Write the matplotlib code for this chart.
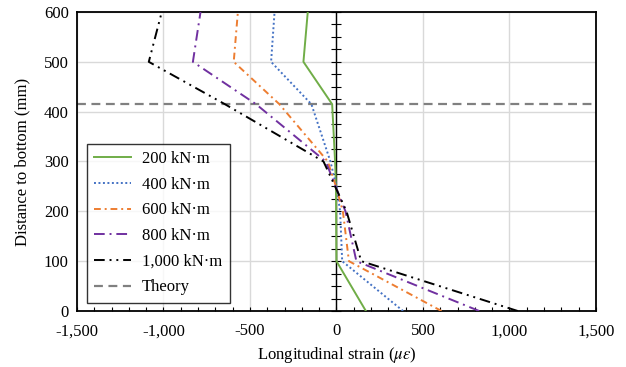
import numpy as np
import matplotlib
matplotlib.use("Agg")
import matplotlib.pyplot as plt
from matplotlib.ticker import MultipleLocator, FuncFormatter

plt.rcParams['font.family'] = ['Liberation Serif', 'DejaVu Serif']
plt.rcParams['mathtext.fontset'] = 'stix'

# gauge heights (mm) and strains (micro-strain) per moment level
height = [0, 100, 200, 250, 300, 415, 500, 600]
strain_200 = [170, 0, -2, -3, -8, -25, -191, -166]
strain_400 = [385, 33, 21, 0, -35, -145, -378, -358]
strain_600 = [607, 72, 37, -3, -50, -330, -594, -570]
strain_800 = [825, 115, 52, -5, -62, -465, -830, -786]
strain_1000 = [1048, 143, 58, -8, -75, -645, -1085, -1010]
theory_height = 415

labels = ['200 kN·m', '400 kN·m', '600 kN·m', '800 kN·m', '1,000 kN·m']
colors = ['#70AD47', '#4472C4', '#ED7D31', '#7030A0', '#000000']
styles = ['-', (0, (1, 1.3)), (0, (3.5, 2, 1, 2)), (0, (5.5, 2.5, 1, 2.5)),
          (0, (5.5, 2.5, 1, 2.5, 1, 2.5))]

fig = plt.figure(figsize=(6.26, 3.67), dpi=100)
ax = fig.add_axes([0.123, 0.1526, 0.829, 0.8147])

series = [strain_200, strain_400, strain_600, strain_800, strain_1000]
for s, lab, c, ls in zip(series, labels, colors, styles):
    ax.plot(s, height, color=c, linestyle=ls, lw=1.4, label=lab, zorder=3)

ax.axhline(theory_height, color='#808080', linestyle=(0, (4, 2.5)), lw=1.6,
           label='Theory', zorder=2)

# vertical axis crossing at zero with its tick marks
ax.axvline(0, color='black', lw=1.0, zorder=2.5)
yt = np.arange(0, 601, 25)
ax.plot(np.zeros_like(yt), yt, linestyle='none', marker='_', markersize=7,
        markeredgewidth=0.8, color='black', zorder=2.5, clip_on=False)

ax.set_xlim(-1500, 1500)
ax.set_ylim(0, 600)
ax.xaxis.set_major_locator(MultipleLocator(500))
ax.xaxis.set_minor_locator(MultipleLocator(100))
ax.yaxis.set_major_locator(MultipleLocator(100))
ax.xaxis.set_major_formatter(FuncFormatter(lambda v, p: '{:,.0f}'.format(v)))
ax.tick_params(axis='x', which='both', direction='in', length=3, width=0.8,
               labelsize=12, pad=9)
ax.tick_params(axis='y', which='both', length=0, labelsize=12, pad=6)
ax.grid(True, which='major', color='#D9D9D9', lw=1.0, zorder=0)
ax.set_axisbelow(True)
for sp in ax.spines.values():
    sp.set_linewidth(1.3)

ax.set_xlabel(r'Longitudinal strain ($\mu\varepsilon$)', fontsize=12, labelpad=4)
ax.set_ylabel('Distance to bottom (mm)', fontsize=12, labelpad=10)

leg = ax.legend(loc='lower left', bbox_to_anchor=(0.019, 0.027), fontsize=12,
                frameon=True, fancybox=False, edgecolor='black',
                handlelength=2.2, borderpad=0.45, labelspacing=0.58,
                handletextpad=0.65, borderaxespad=0)
leg.get_frame().set_linewidth(1.0)

fig.savefig('out.png', dpi=100)
